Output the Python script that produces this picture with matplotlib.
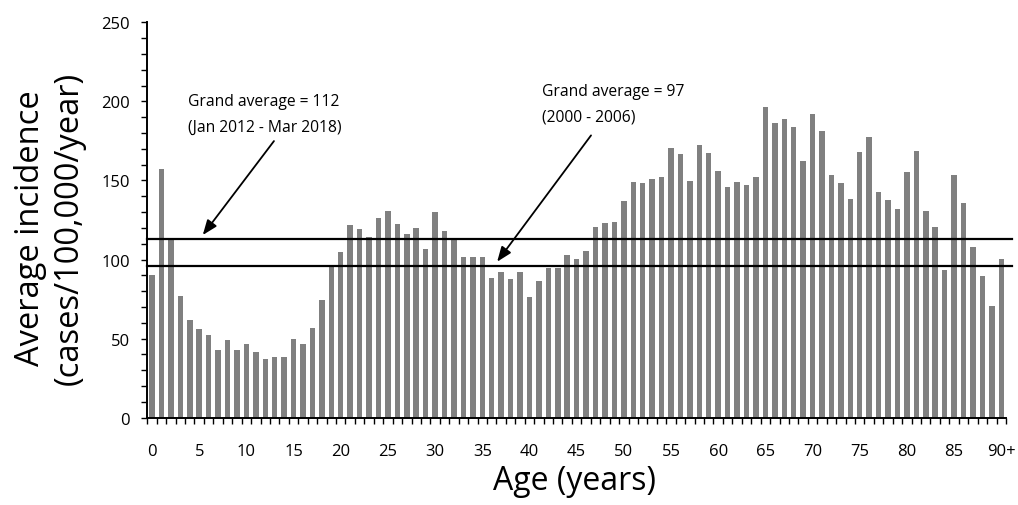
import matplotlib.pyplot as plt
import numpy as np

plt.rcParams["font.family"] = ["Open Sans", "DejaVu Sans"]

ages = list(range(91))
age_labels = [str(a) if a % 5 == 0 else "" for a in ages]
age_labels[90] = "90+"
incidence = [
    90.4, 157.3, 113.0, 76.9, 62.0, 56.3, 52.5, 42.8, 49.1, 42.8,
    46.4, 41.5, 36.9, 38.6, 38.6, 49.5, 46.6, 56.9, 74.6, 96.0,
    104.8, 121.6, 119.1, 114.0, 126.0, 130.5, 122.3, 116.1, 120.2, 106.7,
    129.8, 117.8, 113.0, 101.4, 101.8, 101.4, 88.1, 92.3, 87.7, 91.9,
    76.1, 86.2, 94.6, 94.4, 102.7, 100.3, 105.6, 120.4, 123.1, 123.5,
    136.8, 149.0, 148.2, 150.7, 152.2, 170.3, 166.9, 149.7, 172.4, 167.2,
    156.0, 146.1, 149.2, 147.1, 152.4, 196.5, 186.1, 188.7, 183.8, 162.5,
    192.0, 181.5, 153.5, 148.4, 138.1, 167.8, 177.3, 142.9, 137.4, 132.0,
    155.1, 168.8, 130.5, 120.6, 93.2, 153.5, 135.8, 107.7, 89.8, 70.6,
    100.5,
]
avg_recent = 113
avg_old = 96

fig = plt.figure(figsize=(10.18, 5.06), dpi=100)
ax = fig.add_axes([0.1447, 0.1725, 0.8435, 0.7815])

ax.bar(ages, incidence, width=0.58, color="#808080", zorder=2)
for level in (avg_recent, avg_old):
    ax.plot([-0.5, 91.1], [level, level], color="black", lw=1.6,
            clip_on=False, zorder=3)

ax.set_xlim(-0.5, 90.5)
ax.set_ylim(0, 250)
ax.set_yticks(range(0, 251, 50))
ax.set_yticks(range(0, 251, 10), minor=True)
ax.set_xticks(ages)
ax.set_xticklabels(age_labels)
ax.set_xticks(np.arange(-0.5, 91, 1.0), minor=True)
ax.tick_params(axis="x", which="major", length=0, pad=18, labelsize=12)
ax.tick_params(axis="x", which="minor", length=4.5, width=1)
ax.tick_params(axis="y", which="both", length=4.5, width=1, labelsize=12,
               pad=8)
for s in ("top", "right"):
    ax.spines[s].set_visible(False)
for s in ("left", "bottom"):
    ax.spines[s].set_linewidth(1.4)

fig.text(574.5 / 1018, 1 - 482 / 506, "Age (years)", fontsize=23,
         ha="center", va="center")
fig.text(50 / 1018, 1 - 228 / 506, "Average incidence\n(cases/100,000/year)",
         fontsize=23.5, ha="center", va="center", rotation=90,
         linespacing=1.2, multialignment="center")

arrow = dict(arrowstyle="-|>,head_width=0.35,head_length=0.9",
             color="black", lw=1.3)
ax.annotate("", xy=(5.2, 114.1), xytext=(13.1, 176.3), arrowprops=arrow)
ax.text(3.85, 205, "Grand average = 112\n(Jan 2012 - Mar 2018)",
        fontsize=11.25, va="top", ha="left", linespacing=1.75)
ax.annotate("", xy=(36.4, 97.2), xytext=(46.7, 179.9), arrowprops=arrow)
ax.text(41.3, 211.5, "Grand average = 97\n(2000 - 2006)",
        fontsize=11.25, va="top", ha="left", linespacing=1.75)

fig.savefig("out.png", dpi=100)
